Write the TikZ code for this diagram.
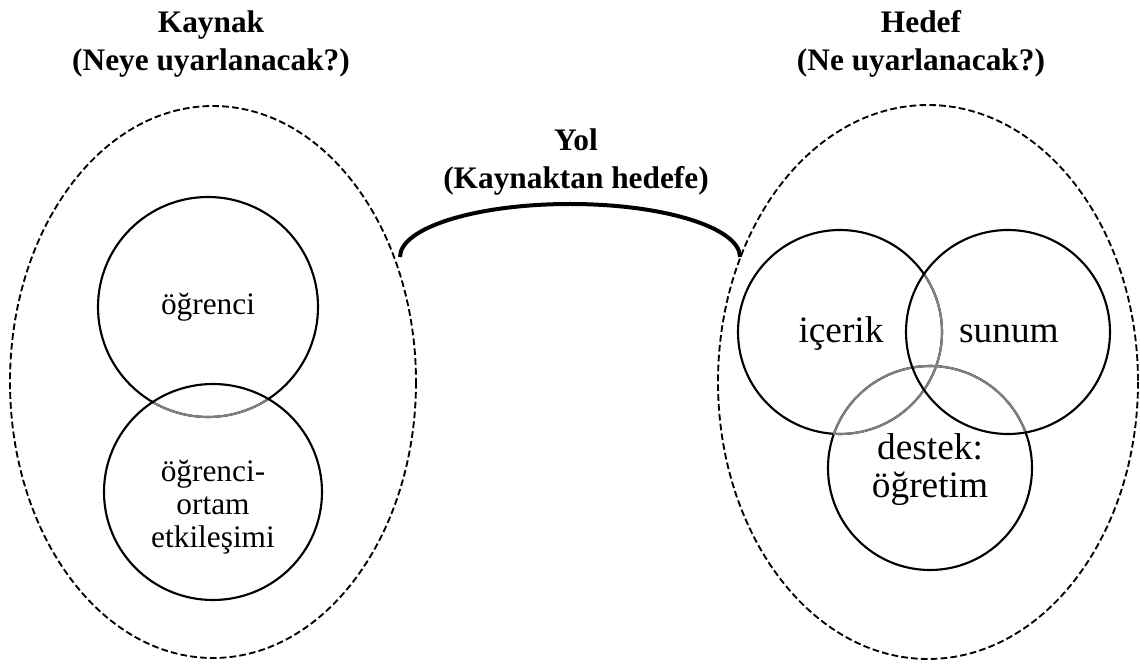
\documentclass[tikz,border=0pt]{standalone}
\usepackage{fontspec}
\setmainfont{Liberation Serif}
\usepackage{tikz}
\definecolor{overlap}{RGB}{128, 128, 128}

\tikzset{
  outer/.style={color=black, line width=1.4pt, dash pattern=on 5pt off 2.4pt},
  ring/.style={color=black, line width=1.6pt},
  ringfade/.style={color=overlap, line width=1.6pt},
  bridge/.style={color=black, line width=3pt},
  heading/.style={font=\fontsize{23.5}{28.5}\selectfont\bfseries, align=center},
  leftlabel/.style={font=\fontsize{23.5}{24.75}\selectfont, align=center},
  rightlabel/.style={font=\fontsize{28}{28.5}\selectfont, align=center}
}

\begin{document}
\begin{tikzpicture}[x=0.75pt, y=-0.75pt]
            \useasboundingbox (0, 0) rectangle (1140, 666);
            % titles
            \node[heading] (kaynak) at ( 211,  44) {Kaynak\\(Neye uyarlanacak?)};
            \node[heading] (hedef)  at ( 921,  44) {Hedef\\(Ne uyarlanacak?)};
            \node[heading] (yol)    at ( 576, 162) {Yol\\(Kaynaktan hedefe)};
            % outer sets
            \draw[outer] ( 213, 382) ellipse (203 and 276);
            \draw[outer] ( 928, 382) ellipse (210 and 277);
            % path between them
            \coordinate (yolsol) at ( 400, 257);
            \coordinate (yolsag) at ( 740, 257);
            \draw[bridge] (yolsol) arc[start angle=180, end angle=360, x radius=170, y radius=53];
            % source circles
            \draw[ring] ( 208, 307) ellipse (110 and 110);
            \begin{scope}
              \clip ( 213, 492) ellipse (109 and 108);
              \draw[ringfade] ( 208, 307) ellipse (110 and 110);
            \end{scope}
            \draw[ring] ( 213, 492) ellipse (109 and 108);
            \node[leftlabel, anchor=base] (ogrenci) at ( 208, 315) {öğrenci};
            \node[leftlabel] (etkilesim) at ( 213, 507) {öğrenci-\\ortam\\etkileşimi};
            % target circles
            \draw[ring] ( 840, 332) ellipse (102 and 102);
            \draw[ring] ( 930, 468) ellipse (102 and 102);
            \begin{scope}
              \clip (1008, 332) ellipse (102 and 102);
              \draw[ringfade] ( 840, 332) ellipse (102 and 102);
              \draw[ringfade] ( 930, 468) ellipse (102 and 102);
            \end{scope}
            \begin{scope}
              \clip ( 930, 468) ellipse (102 and 102);
              \draw[ringfade] ( 840, 332) ellipse (102 and 102);
            \end{scope}
            \begin{scope}
              \clip ( 840, 332) ellipse (102 and 102);
              \draw[ringfade] ( 930, 468) ellipse (102 and 102);
            \end{scope}
            \draw[ring] (1008, 332) ellipse (102 and 102);
            \node[rightlabel, anchor=base] (icerik) at ( 841, 343) {içerik};
            \node[rightlabel, anchor=base] (sunum)  at (1009, 343) {sunum};
            \node[rightlabel] (destek) at ( 930, 470) {destek:\\öğretim};
        \end{tikzpicture}
\end{document}
